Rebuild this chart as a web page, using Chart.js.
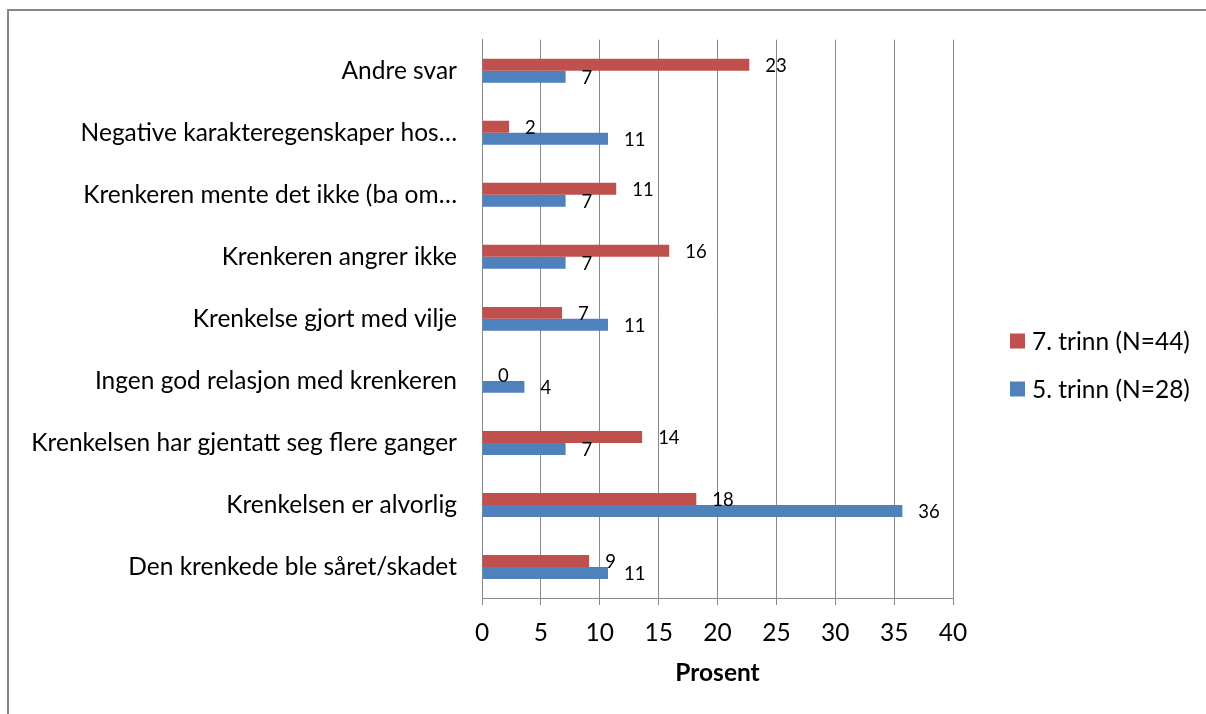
<!DOCTYPE html>
<html>
<head>
<meta charset="utf-8">
<script src="https://cdn.jsdelivr.net/npm/chart.js@4"></script>
<style>
  body { margin: 0; background: #fff; }
  #wrap { position: relative; width: 1206px; height: 714px; overflow: hidden; }
  #frame { position: absolute; left: 7px; top: 9px; width: 1260px; height: 780px; border: 2px solid #878787; }
  canvas { position: absolute; left: 0; top: 0; }
</style>
</head>
<body>
<div id="wrap">
  <div id="frame"></div>
  <canvas id="chart" width="1206" height="714"></canvas>
</div>
<script>
const categories = [
  'Andre svar',
  'Negative karakteregenskaper hos…',
  'Krenkeren mente det ikke (ba om…',
  'Krenkeren angrer ikke',
  'Krenkelse gjort med vilje',
  'Ingen god relasjon med krenkeren',
  'Krenkelsen har gjentatt seg flere ganger',
  'Krenkelsen er alvorlig',
  'Den krenkede ble såret/skadet'
];
// percent of pupils per grade
const trinn7 = [22.7, 2.3, 11.4, 15.9, 6.8, 0, 13.6, 18.2, 9.1];
const trinn5 = [7.1, 10.7, 7.1, 7.1, 10.7, 3.6, 7.1, 35.7, 10.7];
const seriesNames = ['7. trinn (N=44)', '5. trinn (N=28)'];
const xTicks = [0, 5, 10, 15, 20, 25, 30, 35, 40];

const FONT = 'Lato';
const TEXT_SIZE = 24.5;
const RED = '#C0504D';
const BLUE = '#4F81BD';
const GRID = '#898989';

// value labels just past the end of each bar
const barLabels = {
  id: 'barLabels',
  afterDatasetsDraw(chart) {
    const ctx = chart.ctx;
    ctx.save();
    ctx.font = '18.5px ' + FONT;
    ctx.fillStyle = '#000';
    ctx.textAlign = 'left';
    ctx.textBaseline = 'middle';
    chart.data.datasets.forEach((ds, i) => {
      chart.getDatasetMeta(i).data.forEach((bar, j) => {
        ctx.fillText(Math.round(ds.data[j]).toString(), bar.x + 16, bar.y + 1.5);
      });
    });
    ctx.restore();
  }
};

// legend to the right of the plot
const sideLegend = {
  id: 'sideLegend',
  afterDraw(chart) {
    const ctx = chart.ctx;
    ctx.save();
    ctx.font = TEXT_SIZE + 'px ' + FONT;
    ctx.textAlign = 'left';
    ctx.textBaseline = 'middle';
    chart.data.datasets.forEach((ds, i) => {
      const y = 341 + i * 48;
      ctx.fillStyle = ds.backgroundColor;
      ctx.fillRect(1010, y - 7.5, 15, 15);
      ctx.fillStyle = '#000';
      ctx.fillText(ds.label, 1032, y + 1);
    });
    ctx.restore();
  }
};

new Chart(document.getElementById('chart'), {
  type: 'bar',
  data: {
    labels: categories,
    datasets: [
      { label: seriesNames[0], data: trinn7, backgroundColor: RED },
      { label: seriesNames[1], data: trinn5, backgroundColor: BLUE }
    ]
  },
  options: {
    indexAxis: 'y',
    responsive: false,
    animation: false,
    events: [],
    categoryPercentage: 0.386,
    barPercentage: 1,
    layout: { padding: { left: 8, top: 38, right: 253, bottom: 0 } },
    plugins: { legend: { display: false }, tooltip: { enabled: false } },
    scales: {
      x: {
        min: 0,
        max: 40,
        afterBuildTicks: s => { s.ticks = xTicks.map(v => ({ value: v })); },
        afterFit: s => { s.height = 116; },
        grid: { color: GRID, lineWidth: 1, tickLength: 7 },
        border: { color: GRID, width: 1 },
        ticks: { color: '#000', font: { family: FONT, size: TEXT_SIZE }, padding: 13 },
        title: {
          display: true,
          text: 'Prosent',
          color: '#000',
          font: { family: FONT, size: TEXT_SIZE, weight: 'bold' },
          padding: { top: 0, bottom: 26 }
        }
      },
      y: {
        afterFit: s => { s.width = 474; },
        grid: { display: false, drawTicks: false },
        border: { color: GRID, width: 1 },
        ticks: { color: '#000', font: { family: FONT, size: TEXT_SIZE }, padding: 25 }
      }
    }
  },
  plugins: [barLabels, sideLegend]
});
</script>
</body>
</html>
